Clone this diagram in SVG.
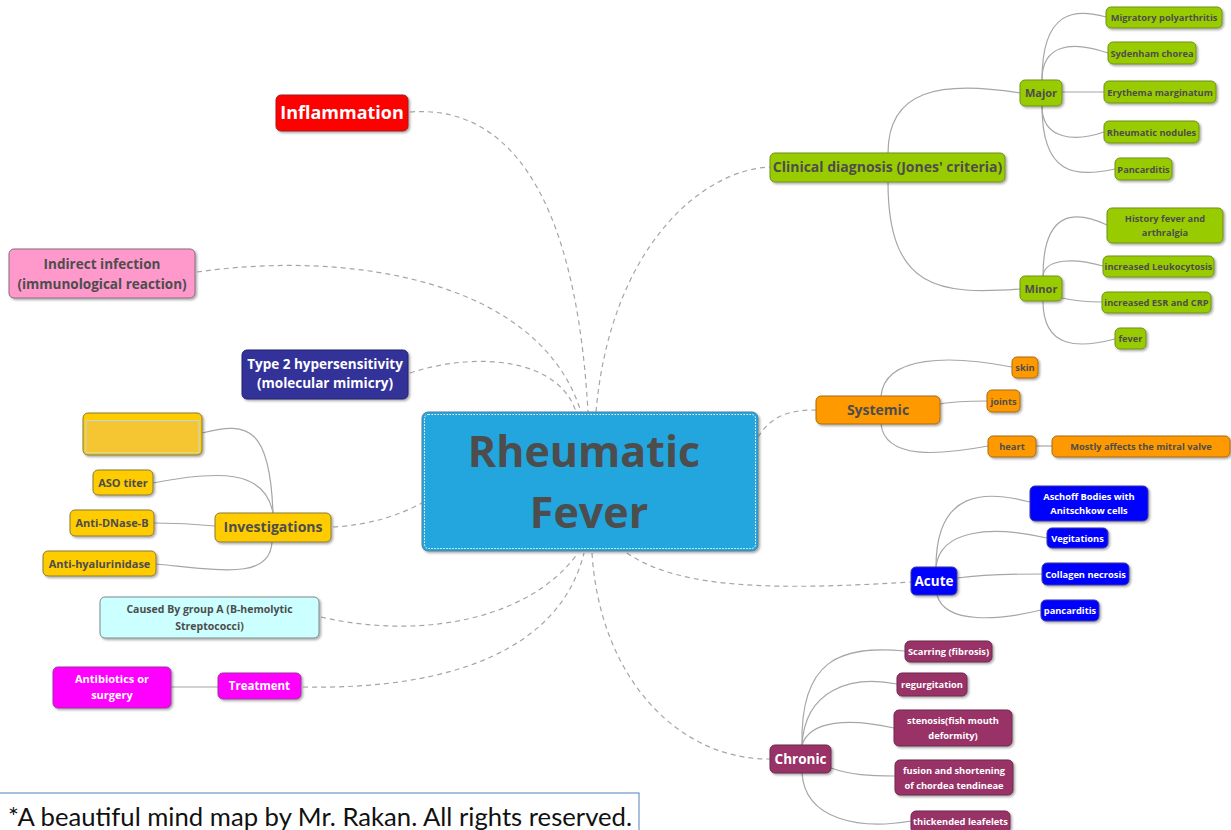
<svg xmlns="http://www.w3.org/2000/svg" width="1231" height="830" viewBox="0 0 1231 830">
<defs>
<filter id="sh" x="-10%" y="-20%" width="125%" height="150%">
<feDropShadow dx="1.5" dy="1.5" stdDeviation="1" flood-color="#000" flood-opacity="0.35"/>
</filter>
<style>
text{font-family:"Open Sans","Noto Sans","DejaVu Sans",sans-serif;font-weight:bold;text-anchor:middle}
.d{fill:#4d4d4d}.w{fill:#fff}
.s{font-size:9.3px}.m{font-size:11px}.l{font-size:14px}
.c{fill:none;stroke:#a6a6a6;stroke-width:1.2}
.dash{fill:none;stroke:#a6a6a6;stroke-width:1.2;stroke-dasharray:5 4}
.gr{fill:#99cc00;stroke:#6f8f20}
.or{fill:#ff9900;stroke:#a86a10}
.bl{fill:#0000ff;stroke:#3a3aa0}
.ch{fill:#993366;stroke:#6a2a4a}
.ye{fill:#ffcc00;stroke:#8a7a3a}
rect{filter:url(#sh);stroke-width:1}
</style>
</defs>
<rect x="0" y="0" width="1231" height="830" fill="#fff" style="filter:none"/>
<g id="connectors">
<path class="dash" d="M410 112 C500 105 575 180 588 412"/>
<path class="dash" d="M197 272 C350 250 540 280 581 412"/>
<path class="dash" d="M410 373 C480 350 560 360 576 412"/>
<path class="dash" d="M596 412 C610 250 700 170 770 167"/>
<path class="dash" d="M758 437 C772 415 790 410 816 410"/>
<path class="dash" d="M333 527 C370 525 400 515 422 503"/>
<path class="dash" d="M627 553 C680 590 780 590 911 582"/>
<path class="dash" d="M592 553 C600 680 680 760 770 759"/>
<path class="dash" d="M321 617 C420 640 530 620 578 553"/>
<path class="dash" d="M303 687 C450 690 560 650 584 553"/>
<path class="c" d="M888 153 C888 90 940 80 1020 93"/>
<path class="c" d="M888 182 C888 290 940 295 1020 289"/>
<path class="c" d="M1042 80 C1042 10 1075 8 1106 17"/>
<path class="c" d="M1042 80 C1042 45 1070 40 1108 53"/>
<path class="c" d="M1062 92 L1104 92"/>
<path class="c" d="M1042 106 C1042 140 1075 142 1104 132"/>
<path class="c" d="M1042 106 C1042 175 1075 178 1115 169"/>
<path class="c" d="M1043 276 C1043 210 1075 210 1107 225"/>
<path class="c" d="M1043 276 C1045 258 1075 258 1103 266"/>
<path class="c" d="M1062 298 C1080 302 1090 302 1102 302"/>
<path class="c" d="M1043 301 C1043 350 1080 348 1115 339"/>
<path class="c" d="M881 396 C885 355 950 355 1012 367"/>
<path class="c" d="M940 404 C955 401 970 401 987 401"/>
<path class="c" d="M881 424 C885 460 940 455 988 446"/>
<path class="c" d="M1036 446 L1052 446"/>
<path class="c" d="M936 567 C936 490 985 490 1030 502"/>
<path class="c" d="M936 567 C940 530 990 525 1047 538"/>
<path class="c" d="M957 578 C980 575 1010 574 1042 574"/>
<path class="c" d="M937 595 C945 625 1000 620 1041 610"/>
<path class="c" d="M802 745 C800 660 840 645 905 651"/>
<path class="c" d="M802 745 C805 690 850 675 897 684"/>
<path class="c" d="M802 745 C810 720 850 718 894 728"/>
<path class="c" d="M831 768 C850 775 870 776 895 776"/>
<path class="c" d="M802 773 C805 820 860 830 911 821"/>
<path class="c" d="M273 513 C270 430 250 420 202 433"/>
<path class="c" d="M273 513 C265 470 220 470 153 483"/>
<path class="c" d="M215 526 C195 524 175 523 154 523"/>
<path class="c" d="M272 542 C270 580 220 570 156 564"/>
<path class="c" d="M171 687 L218 687"/>
</g>
<g id="center">
<rect x="422" y="412" width="336" height="139" rx="6" fill="#21a6dd" stroke="#5a7f90"/>
<rect x="424.5" y="414.5" width="331" height="134" rx="4" fill="none" stroke="#fff" stroke-width="1.5" stroke-dasharray="1.5 1.5" style="filter:none"/>
<text x="584" y="467" class="d" style="font-size:43px">Rheumatic</text>
<text x="589" y="528" class="d" style="font-size:43px">Fever</text>
</g>
<g id="inflammation">
<rect x="276" y="95" width="132" height="36" rx="5" fill="#ff0000" stroke="#a02020"/>
<text x="342" y="119" class="w" style="font-size:18px">Inflammation</text>
</g>
<g id="indirect">
<rect x="9" y="249" width="186" height="49" rx="5" fill="#ff99cc" stroke="#8a6a7a"/>
<text x="102" y="269" class="d" style="font-size:13.5px">Indirect infection</text>
<text x="102" y="289" class="d" style="font-size:13.5px">(immunological reaction)</text>
</g>
<g id="type2">
<rect x="242" y="350" width="166" height="49" rx="5" fill="#333399" stroke="#25256a"/>
<text x="325" y="369" class="w" style="font-size:13.5px">Type 2 hypersensitivity</text>
<text x="325" y="388" class="w" style="font-size:13.5px">(molecular mimicry)</text>
</g>
<g id="investigations">
<rect class="ye" x="215" y="513" width="116" height="29" rx="5"/>
<text x="273" y="532" class="d l">Investigations</text>
</g>
<g id="blank">
<rect class="ye" x="83" y="413" width="119" height="42" rx="5"/>
<rect x="86" y="420.5" width="113" height="32" fill="#f5c631" stroke="#b9d9ea" stroke-width="2" style="filter:none"/>
</g>
<g id="aso">
<rect class="ye" x="93" y="470" width="60" height="25" rx="5"/>
<text x="123" y="487" class="d m">ASO titer</text>
</g>
<g id="dnase">
<rect class="ye" x="70" y="510" width="84" height="26" rx="5"/>
<text x="112" y="527" class="d m">Anti-DNase-B</text>
</g>
<g id="hyal">
<rect class="ye" x="43" y="551" width="113" height="25" rx="5"/>
<text x="99.5" y="568" class="d m">Anti-hyalurinidase</text>
</g>
<g id="caused">
<rect x="100" y="597" width="219" height="41" rx="5" fill="#ccffff" stroke="#7a8a8a"/>
<text x="209.5" y="613" class="d" style="font-size:10.5px">Caused By group A (B-hemolytic</text>
<text x="209.5" y="630" class="d" style="font-size:10.5px">Streptococci)</text>
</g>
<g id="antibiotics">
<rect x="53" y="667" width="118" height="41" rx="5" fill="#ff00ff" stroke="#a030a0"/>
<text x="112" y="683" class="w m">Antibiotics or</text>
<text x="112" y="699" class="w m">surgery</text>
</g>
<g id="treatment">
<rect x="218" y="673" width="83" height="26" rx="5" fill="#ff00ff" stroke="#a030a0"/>
<text x="259.5" y="690" class="w" style="font-size:11.5px">Treatment</text>
</g>
<g id="clinical">
<rect class="gr" x="770" y="153" width="235" height="29" rx="5"/>
<text x="887.5" y="172" class="d l">Clinical diagnosis (Jones' criteria)</text>
</g>
<g id="major">
<rect class="gr" x="1020" y="80" width="42" height="26" rx="5"/>
<text x="1041" y="97" class="d m">Major</text>
</g>
<g id="migratory">
<rect class="gr" x="1106" y="7" width="116" height="21" rx="5"/>
<text x="1164" y="21" class="d s">Migratory polyarthritis</text>
</g>
<g id="sydenham">
<rect class="gr" x="1108" y="42" width="88" height="22" rx="5"/>
<text x="1152" y="56.5" class="d s">Sydenham chorea</text>
</g>
<g id="erythema">
<rect class="gr" x="1104" y="81" width="112" height="22" rx="5"/>
<text x="1160" y="95.5" class="d s">Erythema marginatum</text>
</g>
<g id="nodules">
<rect class="gr" x="1104" y="121" width="95" height="22" rx="5"/>
<text x="1151.5" y="135.5" class="d s">Rheumatic nodules</text>
</g>
<g id="pancarditis-major">
<rect class="gr" x="1115" y="158" width="57" height="22" rx="5"/>
<text x="1143.5" y="172.5" class="d s">Pancarditis</text>
</g>
<g id="minor">
<rect class="gr" x="1020" y="276" width="42" height="25" rx="5"/>
<text x="1041" y="292.5" class="d m">Minor</text>
</g>
<g id="history">
<rect class="gr" x="1107" y="208" width="116" height="35" rx="5"/>
<text x="1165" y="222" class="d s">History fever and</text>
<text x="1165" y="236" class="d s">arthralgia</text>
</g>
<g id="leukocytosis">
<rect class="gr" x="1103" y="256" width="111" height="21" rx="5"/>
<text x="1158.5" y="270" class="d s">increased Leukocytosis</text>
</g>
<g id="esr">
<rect class="gr" x="1102" y="292" width="109" height="21" rx="5"/>
<text x="1156.5" y="306" class="d s">increased ESR and CRP</text>
</g>
<g id="fever">
<rect class="gr" x="1115" y="328" width="31" height="21" rx="5"/>
<text x="1130.5" y="342" class="d s">fever</text>
</g>
<g id="systemic">
<rect class="or" x="816" y="396" width="124" height="28" rx="5"/>
<text x="878" y="415" class="d l">Systemic</text>
</g>
<g id="skin">
<rect class="or" x="1012" y="357" width="26" height="21" rx="5"/>
<text x="1025" y="371" class="d s">skin</text>
</g>
<g id="joints">
<rect class="or" x="987" y="390" width="33" height="22" rx="5"/>
<text x="1003.5" y="404.5" class="d s">joints</text>
</g>
<g id="heart">
<rect class="or" x="988" y="436" width="48" height="21" rx="5"/>
<text x="1012" y="450" class="d s">heart</text>
</g>
<g id="mitral">
<rect class="or" x="1052" y="436" width="178" height="21" rx="5"/>
<text x="1141" y="450" class="d s">Mostly affects the mitral valve</text>
</g>
<g id="acute">
<rect class="bl" x="911" y="567" width="46" height="28" rx="5"/>
<text x="934" y="586" class="w" style="font-size:13.5px">Acute</text>
</g>
<g id="aschoff">
<rect class="bl" x="1030" y="486" width="118" height="35" rx="5"/>
<text x="1089" y="500" class="w s">Aschoff Bodies with</text>
<text x="1089" y="514" class="w s">Anitschkow cells</text>
</g>
<g id="vegitations">
<rect class="bl" x="1047" y="528" width="61" height="20" rx="5"/>
<text x="1077.5" y="541.5" class="w s">Vegitations</text>
</g>
<g id="collagen">
<rect class="bl" x="1042" y="563" width="87" height="22" rx="5"/>
<text x="1085.5" y="577.5" class="w s">Collagen necrosis</text>
</g>
<g id="pancarditis-acute">
<rect class="bl" x="1041" y="600" width="58" height="21" rx="5"/>
<text x="1070" y="614" class="w s">pancarditis</text>
</g>
<g id="chronic">
<rect class="ch" x="770" y="745" width="61" height="28" rx="5"/>
<text x="800.5" y="764" class="w" style="font-size:13.5px">Chronic</text>
</g>
<g id="scarring">
<rect class="ch" x="905" y="641" width="87" height="21" rx="5"/>
<text x="948.5" y="655" class="w s">Scarring (fibrosis)</text>
</g>
<g id="regurgitation">
<rect class="ch" x="897" y="673" width="70" height="23" rx="5"/>
<text x="932" y="688" class="w s">regurgitation</text>
</g>
<g id="stenosis">
<rect class="ch" x="894" y="710" width="118" height="36" rx="5"/>
<text x="953" y="724" class="w s">stenosis(fish mouth</text>
<text x="953" y="739" class="w s">deformity)</text>
</g>
<g id="fusion">
<rect class="ch" x="895" y="760" width="118" height="35" rx="5"/>
<text x="954" y="774" class="w s">fusion and shortening</text>
<text x="954" y="789" class="w s">of chordea tendineae</text>
</g>
<g id="thickened">
<rect class="ch" x="911" y="811" width="99" height="22" rx="5"/>
<text x="960.5" y="825" class="w s">thickended leafelets</text>
</g>
<g id="footer">
<rect x="-1" y="793" width="640" height="40" fill="#fff" stroke="#4f81bd" style="filter:none"/>
<text x="8" y="826" style="font-family:Lato,'Liberation Sans',sans-serif;font-weight:normal;font-size:25px;text-anchor:start;fill:#111" textLength="624" lengthAdjust="spacingAndGlyphs">*A beautiful mind map by Mr. Rakan. All rights reserved.</text>
</g>
</svg>
